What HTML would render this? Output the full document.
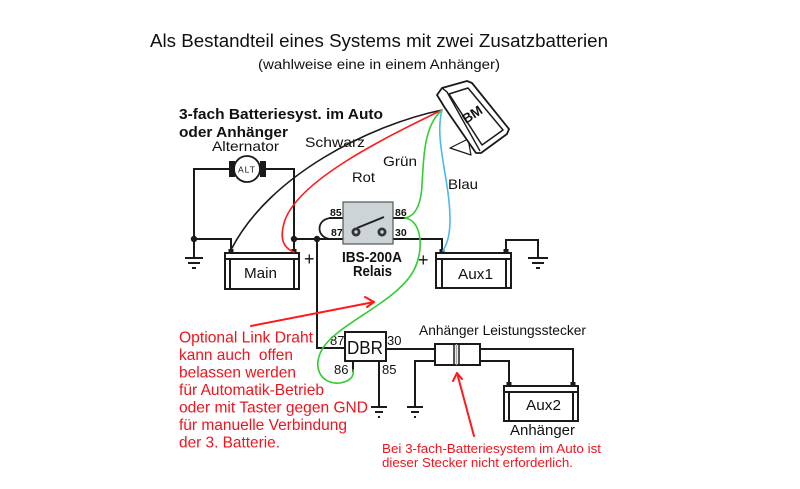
<!DOCTYPE html>
<html><head><meta charset="utf-8"><style>
html,body{margin:0;padding:0;background:#fff;}
svg{display:block;}
text{font-family:"Liberation Sans",Arial,sans-serif;}
</style></head><body>
<svg width="800" height="489" viewBox="0 0 800 489" xmlns="http://www.w3.org/2000/svg">
<rect width="800" height="489" fill="#fff"/>

<!-- Titles -->
<text x="150" y="47" font-size="18" fill="#111" textLength="458" lengthAdjust="spacingAndGlyphs">Als Bestandteil eines Systems mit zwei Zusatzbatterien</text>
<text x="258" y="69" font-size="14" fill="#111" textLength="242" lengthAdjust="spacingAndGlyphs">(wahlweise eine in einem Anhänger)</text>

<text x="179" y="119" font-size="14.5" font-weight="bold" fill="#111" textLength="204" lengthAdjust="spacingAndGlyphs">3-fach Batteriesyst. im Auto</text>
<text x="179" y="137" font-size="14.5" font-weight="bold" fill="#111" textLength="109" lengthAdjust="spacingAndGlyphs">oder Anhänger</text>

<text x="212" y="151" font-size="14" fill="#111" textLength="67" lengthAdjust="spacingAndGlyphs">Alternator</text>
<text x="305" y="147" font-size="14" fill="#111" textLength="60" lengthAdjust="spacingAndGlyphs">Schwarz</text>
<text x="383" y="166" font-size="14" fill="#111" textLength="34" lengthAdjust="spacingAndGlyphs">Grün</text>
<text x="352" y="182" font-size="14" fill="#111" textLength="23" lengthAdjust="spacingAndGlyphs">Rot</text>
<text x="448" y="189" font-size="14" fill="#111" textLength="30" lengthAdjust="spacingAndGlyphs">Blau</text>

<!-- Alternator loop & wiring -->
<g stroke="#1a1a1a" stroke-width="2" fill="none">
  <path d="M194,239 V169 H230 M265,169 H294 V239"/>
  <path d="M194,239 H231 V251"/>
  <path d="M194,239 V258"/>
  <path d="M185,258 H203 M188,263 H200 M192,268 H196"/>
  <path d="M294,239 V251 M294,239 H343"/>
  <path d="M317,239 V348 H345"/>
  <path d="M329,218 H343"/>
  <path d="M333,218 C315,217 315,240 333,239" stroke-width="1.8"/>
  <path d="M393,218 H407 M393,239 H442 V251"/>
  <path d="M506,251 V240 H538 V258"/>
  <path d="M528,258 H548 M532,263 H544 M536,268 H540"/>
  <path d="M353,361 V372 M379,361 V407 M386,349 H435"/>
  <path d="M371,407 H387 M375,412 H383 M378,417 H380"/>
  <path d="M435,361 H415 V407"/>
  <path d="M407,407 H423 M411,412 H419 M414,417 H416"/>
  <path d="M480,349 H573 V386 M480,361 H509 V386"/>
</g>
<circle cx="247" cy="169" r="13" fill="#fff" stroke="#1a1a1a" stroke-width="1.8"/>
<rect x="229" y="161" width="6" height="16" fill="#1a1a1a"/>
<rect x="260" y="161" width="6" height="16" fill="#1a1a1a"/>
<text x="247" y="172.5" font-size="8.5" text-anchor="middle" fill="#111" letter-spacing="1">ALT</text>
<circle cx="194" cy="239" r="3.2" fill="#1a1a1a"/>
<circle cx="294" cy="239" r="3.2" fill="#1a1a1a"/>
<circle cx="317" cy="239" r="3.2" fill="#1a1a1a"/>

<!-- Batteries -->
<g stroke="#1a1a1a" stroke-width="2" fill="none">
  <rect x="225" y="253" width="74" height="36"/>
  <path d="M225,259 H299 M230,259 V289 M294,259 V289"/>
  <rect x="436" y="253" width="75" height="35"/>
  <path d="M436,259 H511 M442,259 V288 M506,259 V288"/>
  <rect x="504" y="386" width="74" height="35"/>
  <path d="M504,392 H578 M509,392 V421 M573,392 V421"/>
</g>
<rect x="228.5" y="249" width="5" height="4" fill="#1a1a1a"/>
<rect x="291.5" y="249" width="5" height="4" fill="#1a1a1a"/>
<rect x="439.5" y="249" width="5" height="4" fill="#1a1a1a"/>
<rect x="503.5" y="249" width="5" height="4" fill="#1a1a1a"/>
<rect x="506.5" y="382" width="5" height="4" fill="#1a1a1a"/>
<rect x="570.5" y="382" width="5" height="4" fill="#1a1a1a"/>
<text x="244" y="278" font-size="15" fill="#111" textLength="33" lengthAdjust="spacingAndGlyphs">Main</text>
<text x="458" y="279" font-size="15" fill="#111" textLength="35" lengthAdjust="spacingAndGlyphs">Aux1</text>
<text x="526" y="410" font-size="15" fill="#111" textLength="35" lengthAdjust="spacingAndGlyphs">Aux2</text>
<text x="510" y="435" font-size="15" fill="#111" textLength="65" lengthAdjust="spacingAndGlyphs">Anhänger</text>
<text x="304" y="265" font-size="18" fill="#111">+</text>
<text x="418" y="266" font-size="18" fill="#111">+</text>

<!-- Relay -->
<rect x="343" y="202" width="50" height="42" fill="#cdd4d8" stroke="#555" stroke-width="1.2"/>
<line x1="357" y1="228" x2="384" y2="217" stroke="#222" stroke-width="2"/>
<circle cx="356" cy="232" r="4.5" fill="#333"/>
<circle cx="356" cy="232" r="1.7" fill="#cdd4d8"/>
<circle cx="382" cy="232" r="4.5" fill="#333"/>
<circle cx="382" cy="232" r="1.7" fill="#cdd4d8"/>
<g font-size="10.5" font-weight="bold" fill="#111">
  <text x="330" y="216">85</text>
  <text x="331" y="236">87</text>
  <text x="395" y="216">86</text>
  <text x="395" y="236">30</text>
</g>
<text x="342" y="262" font-size="14.5" font-weight="bold" fill="#111" textLength="60" lengthAdjust="spacingAndGlyphs">IBS-200A</text>
<text x="353" y="276" font-size="14.5" font-weight="bold" fill="#111" textLength="39" lengthAdjust="spacingAndGlyphs">Relais</text>

<!-- DBR -->
<rect x="345" y="332" width="41" height="29" fill="#fff" stroke="#1a1a1a" stroke-width="2"/>
<text x="347" y="354" font-size="18" fill="#111" textLength="36" lengthAdjust="spacingAndGlyphs">DBR</text>
<g font-size="13" fill="#111">
  <text x="330" y="345">87</text>
  <text x="387" y="345">30</text>
  <text x="334" y="374">86</text>
  <text x="382" y="374">85</text>
</g>

<!-- Plug -->
<rect x="435" y="344" width="45" height="21" fill="#fff" stroke="#1a1a1a" stroke-width="2"/>
<line x1="454" y1="344" x2="454" y2="365" stroke="#1a1a1a" stroke-width="1.5"/>
<line x1="456.5" y1="344" x2="456.5" y2="365" stroke="#aaa" stroke-width="1.5"/>
<line x1="459" y1="344" x2="459" y2="365" stroke="#1a1a1a" stroke-width="1.5"/>
<text x="419" y="335" font-size="14" fill="#111" textLength="167" lengthAdjust="spacingAndGlyphs">Anhänger Leistungsstecker</text>

<!-- BM device -->
<polygon points="450,148 468,139 471,155" fill="#fff" stroke="#1a1a1a" stroke-width="1.2" stroke-linejoin="round"/>
<path d="M437,95 L442,88 L467,81 L472,83 L509,129 L507,134 L481,153 L476,153 L445,108 Z" fill="#fff" stroke="#1a1a1a" stroke-width="1.8" stroke-linejoin="round"/>
<path d="M442,88 L447,92 L480,151" fill="none" stroke="#1a1a1a" stroke-width="1.4"/>
<polygon points="449,94 468,88 503,130 482,145" fill="#fff" stroke="#1a1a1a" stroke-width="1.5" stroke-linejoin="round"/>
<text x="0" y="0" font-size="13.5" font-weight="bold" fill="#111" transform="translate(466,124) rotate(-33)">BM</text>

<!-- Colored wires -->
<g fill="none" stroke-width="1.6" stroke-linecap="round">
  <path d="M442,110 C370,125 270,175 232,248" stroke="#1a1a1a"/>
  <path d="M442,110 C380,140 300,180 285,220 C279,238 283,248 294,252" stroke="#ff1a1a"/>
  <path d="M442,110 C425,125 424,150 422,185 C421,205 415,216 405,218" stroke="#33cc33"/>
  <path d="M405,218 C420,220 425,245 415,268 C400,300 345,320 325,345 C310,365 320,385 340,383 C352,381 354,375 353,370" stroke="#33cc33"/>
  <path d="M442,110 C434,140 450,180 450,220 C450,238 446,245 443,251" stroke="#4db8f0"/>
</g>

<!-- Red arrows -->
<g fill="none" stroke="#ff1a1a" stroke-width="2" stroke-linecap="round" stroke-linejoin="round">
  <path d="M251,326 L374,302"/>
  <path d="M365,297 L374,302 L367,307"/>
  <path d="M474,436 L457,373"/>
  <path d="M453,381 L457,373 L462,379"/>
</g>

<!-- Red text -->
<g font-size="16" fill="#f0141e">
  <text x="179" y="342.5" textLength="134" lengthAdjust="spacingAndGlyphs">Optional Link Draht</text>
  <text x="179" y="360" textLength="114" lengthAdjust="spacingAndGlyphs" xml:space="preserve">kann auch  offen</text>
  <text x="179" y="377.5" textLength="117" lengthAdjust="spacingAndGlyphs">belassen werden</text>
  <text x="179" y="395" textLength="145" lengthAdjust="spacingAndGlyphs">für Automatik-Betrieb</text>
  <text x="179" y="412.5" textLength="189" lengthAdjust="spacingAndGlyphs">oder mit Taster gegen GND</text>
  <text x="179" y="430" textLength="168" lengthAdjust="spacingAndGlyphs">für manuelle Verbindung</text>
  <text x="179" y="447.5" textLength="101" lengthAdjust="spacingAndGlyphs">der 3. Batterie.</text>
</g>
<g font-size="12.5" fill="#f0141e">
  <text x="382" y="453" textLength="219" lengthAdjust="spacingAndGlyphs">Bei 3-fach-Batteriesystem im Auto ist</text>
  <text x="382" y="467" textLength="191" lengthAdjust="spacingAndGlyphs">dieser Stecker nicht erforderlich.</text>
</g>
</svg>
</body></html>
